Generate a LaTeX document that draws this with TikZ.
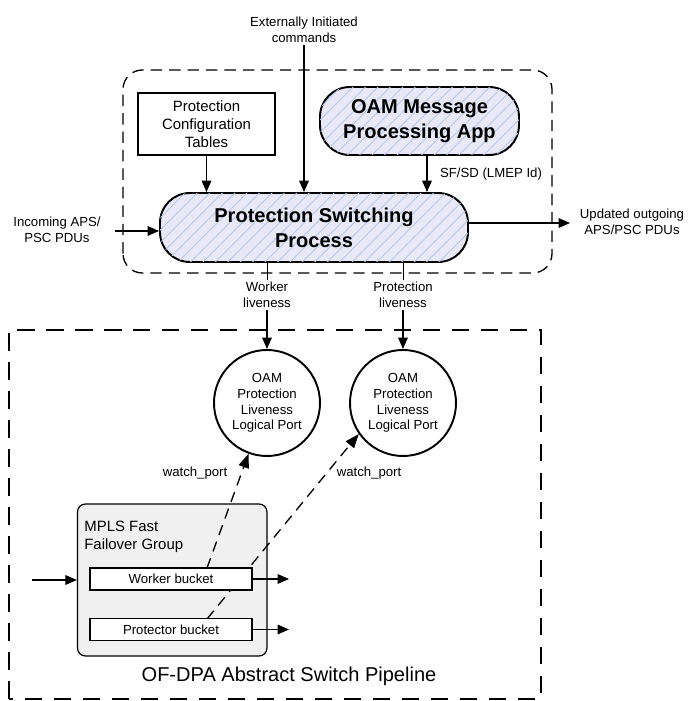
\documentclass[tikz,border=0pt]{standalone}
\usepackage{fontspec}
\setmainfont{Liberation Sans}
\usetikzlibrary{arrows.meta,patterns.meta}

\definecolor{hatchbg}{RGB}{232,232,246}
\definecolor{hatchline}{RGB}{184,200,236}
\definecolor{groupgray}{RGB}{240,240,240}

\newcommand{\smalltxt}{\fontsize{7.5}{9}\selectfont}
\newcommand{\midtxt}{\fontsize{8.5}{10.2}\selectfont}
\newcommand{\bigtxt}{\fontsize{11.4}{14.2}\selectfont}

\tikzset{
  pill/.style={draw, line width=1.1pt, rounded corners=17pt, fill=hatchbg,
    postaction={pattern={Lines[angle=45,distance=5pt,line width=0.5pt]}, pattern color=hatchline},
    inner sep=0pt, font=\bigtxt\bfseries, align=center},
  tablebox/.style={draw, line width=0.6pt, minimum width=2.74cm, minimum height=1.24cm,
    inner sep=0pt, font=\midtxt, align=center},
  lbl/.style={font=\smalltxt, align=center, inner sep=1pt},
  port/.style={draw, circle, line width=1.1pt, minimum size=2.12cm, inner sep=0pt,
    font=\smalltxt, align=center},
  group/.style={draw, line width=0.7pt, rounded corners=4.5pt, fill=groupgray,
    minimum width=3.79cm, minimum height=3.04cm},
  bucket/.style={draw, line width=0.6pt, fill=white, minimum width=3.24cm,
    minimum height=0.44cm, inner sep=0pt, font=\smalltxt},
  arr/.style={line width=0.6pt, -{Triangle[length=6.5pt,width=5.5pt]}},
  watch/.style={line width=0.75pt, dash pattern=on 6pt off 4pt,
    -{Triangle[length=8pt,width=6pt]}},
  topframe/.style={line width=0.75pt, dash pattern=on 6.5pt off 4pt, rounded corners=11pt},
  bottomframe/.style={line width=1.1pt, dash pattern=on 10pt off 6.5pt}
}

\begin{document}
\begin{tikzpicture}
  \useasboundingbox (0,0) rectangle (13.76,14.02);

  \draw[topframe] (2.46,8.56) rectangle (11.04,12.62);
  \draw[bottomframe] (0.18,0.04) rectangle (10.82,7.42);

  \node[tablebox] (pct) at (4.13,11.54) {Protection\\Configuration\\Tables};
  \node[pill, minimum width=3.98cm, minimum height=1.36cm] (app) at (8.39,11.6) {OAM Message\\Processing App};
  \node[pill, minimum width=6.16cm, minimum height=1.38cm] (psp) at (6.28,9.47) {Protection Switching\\Process};

  \node[lbl] (ext) at (6.08,13.42) {Externally Initiated\\commands};
  \node[lbl] (inc) at (1.14,9.42) {Incoming APS/\\PSC PDUs};
  \node[lbl] (upd) at (12.64,9.58) {Updated outgoing\\APS/PSC PDUs};
  \node[lbl, anchor=west] (sfsd) at (8.76,10.54) {SF/SD (LMEP Id)};
  \node[lbl] (wl) at (5.34,8.12) {Worker\\liveness};
  \node[lbl] (pl) at (8.06,8.12) {Protection\\liveness};

  \draw[arr] (pct) -- (pct |- psp.north);
  \draw[arr] (ext) -- (ext |- psp.north);
  \draw[arr] ([xshift=0.15cm]app.south) -- ([xshift=0.15cm]app.south |- psp.north);
  \coordinate (incstart) at (2.3,9.4);
  \draw[arr] (incstart) -- (incstart -| psp.west);
  \coordinate (outend) at (11.4,9.56);
  \draw[arr] (outend -| psp.east) -- (outend);

  \node[port] (port1) at (5.34,5.96) {OAM\\Protection\\Liveness\\Logical Port};
  \node[port] (port2) at (8.06,5.96) {OAM\\Protection\\Liveness\\Logical Port};

  \draw (wl |- psp.south) -- (wl);
  \draw[arr] (wl) -- (port1);
  \draw (pl |- psp.south) -- (pl);
  \draw[arr] (pl) -- (port2);

  \node[group] (grp) at (3.445,2.42) {};
  \node[anchor=west, font=\midtxt, align=left, inner sep=0pt] (grptitle) at (1.68,3.28) {MPLS Fast\\Failover Group};

  \coordinate (wtap) at (4.14,2.66);
  \coordinate (ptap) at (4.14,1.64);
  \draw[watch] (wtap) -- (port1.250);
  \draw[watch] (ptap) -- (port2.215);

  \node[bucket] (wb) at (3.42,2.44) {Worker bucket};
  \node[bucket] (pb) at (3.42,1.43) {Protector bucket};

  \coordinate (grpin) at (0.64,2.42);
  \coordinate (wbout) at (5.78,2.44);
  \coordinate (pbout) at (5.78,1.43);
  \draw[arr] (grpin) -- (grp.west);
  \draw[arr] (wb) -- (wbout);
  \draw[arr] (pb) -- (pbout);

  \node[lbl] (wp1) at (3.9,4.56) {watch\_port};
  \node[lbl] (wp2) at (7.38,4.56) {watch\_port};
  \node[font=\bigtxt] (ofdpa) at (5.78,0.5) {OF-DPA Abstract Switch Pipeline};
\end{tikzpicture}
\end{document}
